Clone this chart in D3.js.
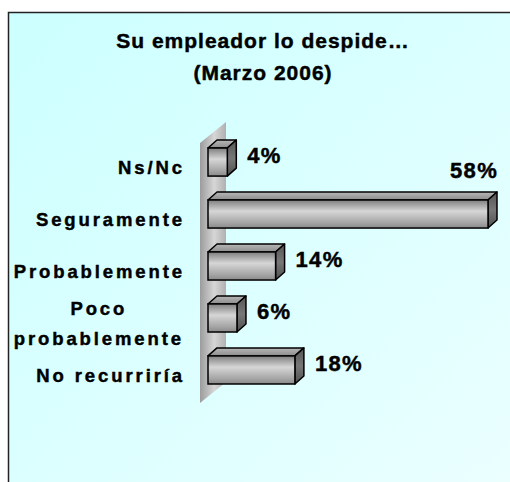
<!DOCTYPE html>
<html>
<head>
<meta charset="utf-8">
<script src="https://cdn.jsdelivr.net/npm/d3@7/dist/d3.min.js"></script>
<style>
    html, body { margin: 0; padding: 0; background: #fff; }
    svg { display: block; font-family: "Liberation Sans", Arial, sans-serif; font-weight: bold; }
    svg text { stroke: #000; stroke-width: 0.45px; }
</style>
</head>
<body>
<div id="chart"></div>
<script>
// Horizontal 3D-style bar chart: "Su empleador lo despide…" (Marzo 2006)

const TITLE_LINES = ["Su empleador lo despide…", "(Marzo 2006)"];
const categories = ["Ns/Nc", "Seguramente", "Probablemente", "Poco probablemente", "No recurriría"];
const categoryLines = [["Ns/Nc"], ["Seguramente"], ["Probablemente"], ["Poco", "probablemente"], ["No recurriría"]];
const values = [4, 58, 14, 6, 18];

const WIDTH = 510;
const HEIGHT = 482;
const DEPTH = { dx: 9, dy: 8 };      // bar extrusion
const WALL = { dx: 26, dy: 21 };     // back wall extrusion

const svg = d3.select("#chart")
    .append("svg")
    .attr("width", WIDTH)
    .attr("height", HEIGHT);

const defs = svg.append("defs");

// Panel background
const bg = defs.append("linearGradient")
    .attr("id", "bg").attr("x1", 0).attr("y1", 0).attr("x2", 1).attr("y2", 1);
bg.append("stop").attr("offset", "0%").attr("stop-color", "#ccffff");
bg.append("stop").attr("offset", "100%").attr("stop-color", "#ecffff");

const wallGrad = defs.append("linearGradient")
    .attr("id", "wall").attr("x1", 0).attr("y1", 0).attr("x2", 1).attr("y2", 0);
wallGrad.append("stop").attr("offset", "0%").attr("stop-color", "#9c9c9c");
wallGrad.append("stop").attr("offset", "55%").attr("stop-color", "#d6d6d6");
wallGrad.append("stop").attr("offset", "100%").attr("stop-color", "#b0b0b0");

const frontGrad = defs.append("linearGradient")
    .attr("id", "front").attr("x1", 0).attr("y1", 0).attr("x2", 0).attr("y2", 1);
frontGrad.append("stop").attr("offset", "0%").attr("stop-color", "#7e7e7e");
frontGrad.append("stop").attr("offset", "40%").attr("stop-color", "#d6d6d6");
frontGrad.append("stop").attr("offset", "80%").attr("stop-color", "#a6a6a6");
frontGrad.append("stop").attr("offset", "100%").attr("stop-color", "#8a8a8a");

const topGrad = defs.append("linearGradient")
    .attr("id", "topface").attr("x1", 0).attr("y1", 1).attr("x2", 0).attr("y2", 0);
topGrad.append("stop").attr("offset", "0%").attr("stop-color", "#8c8c8c");
topGrad.append("stop").attr("offset", "100%").attr("stop-color", "#b8b8b8");

const sideGrad = defs.append("linearGradient")
    .attr("id", "side").attr("x1", 0).attr("y1", 0).attr("x2", 0).attr("y2", 1);
sideGrad.append("stop").attr("offset", "0%").attr("stop-color", "#555");
sideGrad.append("stop").attr("offset", "50%").attr("stop-color", "#777");
sideGrad.append("stop").attr("offset", "100%").attr("stop-color", "#505050");

svg.append("rect")
    .attr("x", 8.5).attr("y", 12.5)
    .attr("width", 520).attr("height", 490)
    .attr("fill", "url(#bg)")
    .attr("stroke", "#222")
    .attr("stroke-width", 1.5);

// Title
svg.append("g")
    .selectAll("text")
    .data(TITLE_LINES)
    .join("text")
    .attr("x", 263)
    .attr("y", (d, i) => 48 + i * 32)
    .attr("text-anchor", "middle")
    .attr("font-size", 21)
    .attr("letter-spacing", 1)
    .attr("fill", "#000")
    .text((d) => d);

// Scales
const x = d3.scaleLinear()
    .domain([0, d3.max(values)])
    .range([208, 488]);

const y = d3.scaleBand()
    .domain(categories)
    .range([140, 392])
    .paddingInner(0.46)
    .paddingOuter(0.154);

const bw = y.bandwidth();

// Back wall
const wx = x(0) - 8;
const wTop = y.range()[0] + 3;
const wBot = y.range()[1] + 11;
svg.append("path")
    .attr("d", `M${wx},${wTop} L${wx + WALL.dx},${wTop - WALL.dy} L${wx + WALL.dx},${wBot - WALL.dy} L${wx},${wBot} Z`)
    .attr("fill", "url(#wall)");

// Bars
const bars = svg.append("g")
    .selectAll("g")
    .data(categories.map((c, i) => ({ c, v: values[i], lines: categoryLines[i] })))
    .join("g");

bars.append("path")
    .attr("d", (d) => {
        const x0 = x(0), x1 = x(d.v), y0 = y(d.c);
        return `M${x0},${y0} L${x0 + DEPTH.dx},${y0 - DEPTH.dy} L${x1 + DEPTH.dx},${y0 - DEPTH.dy} L${x1},${y0} Z`;
    })
    .attr("fill", "url(#topface)")
    .attr("stroke", "#000").attr("stroke-width", 1.5).attr("stroke-linejoin", "round");

bars.append("path")
    .attr("d", (d) => {
        const x1 = x(d.v), y0 = y(d.c);
        return `M${x1},${y0} L${x1 + DEPTH.dx},${y0 - DEPTH.dy} L${x1 + DEPTH.dx},${y0 + bw - DEPTH.dy} L${x1},${y0 + bw} Z`;
    })
    .attr("fill", "url(#side)")
    .attr("stroke", "#000").attr("stroke-width", 1.5).attr("stroke-linejoin", "round");

bars.append("rect")
    .attr("x", x(0))
    .attr("y", (d) => y(d.c))
    .attr("width", (d) => x(d.v) - x(0))
    .attr("height", bw)
    .attr("fill", "url(#front)")
    .attr("stroke", "#000").attr("stroke-width", 1.5);

// Value labels — the widest bar gets its label above the bar end
bars.append("text")
    .attr("x", (d) => d.v === d3.max(values) ? x(d.v) + DEPTH.dx + 1 : x(d.v) + DEPTH.dx + 11)
    .attr("y", (d) => d.v === d3.max(values) ? y(d.c) - 22 : y(d.c) + bw / 2 + 1)
    .attr("text-anchor", (d) => d.v === d3.max(values) ? "end" : "start")
    .attr("font-size", 22)
    .attr("letter-spacing", 1.3)
    .attr("fill", "#000")
    .text((d) => `${d.v}%`);

// Category labels (right aligned, multi-line labels centred on their widest line)
const labelRight = 185;
bars.each(function (d) {
    const g = d3.select(this);
    const n = d.lines.length;
    const cy = y(d.c) + bw / 2;
    const texts = d.lines.map((line, i) => g.append("text")
        .attr("y", cy + 12 - (n - 1) * 15 + i * 30)
        .attr("font-size", 18.5)
        .attr("letter-spacing", 2.9)
        .attr("fill", "#000")
        .text(line));
    if (n === 1) {
        texts[0].attr("x", labelRight).attr("text-anchor", "end");
    } else {
        const wmax = d3.max(texts, (t) => t.node().getComputedTextLength());
        texts.forEach((t) => t.attr("x", labelRight - 4 - wmax / 2 + 3).attr("text-anchor", "middle"));
    }
});
</script>
</body>
</html>
